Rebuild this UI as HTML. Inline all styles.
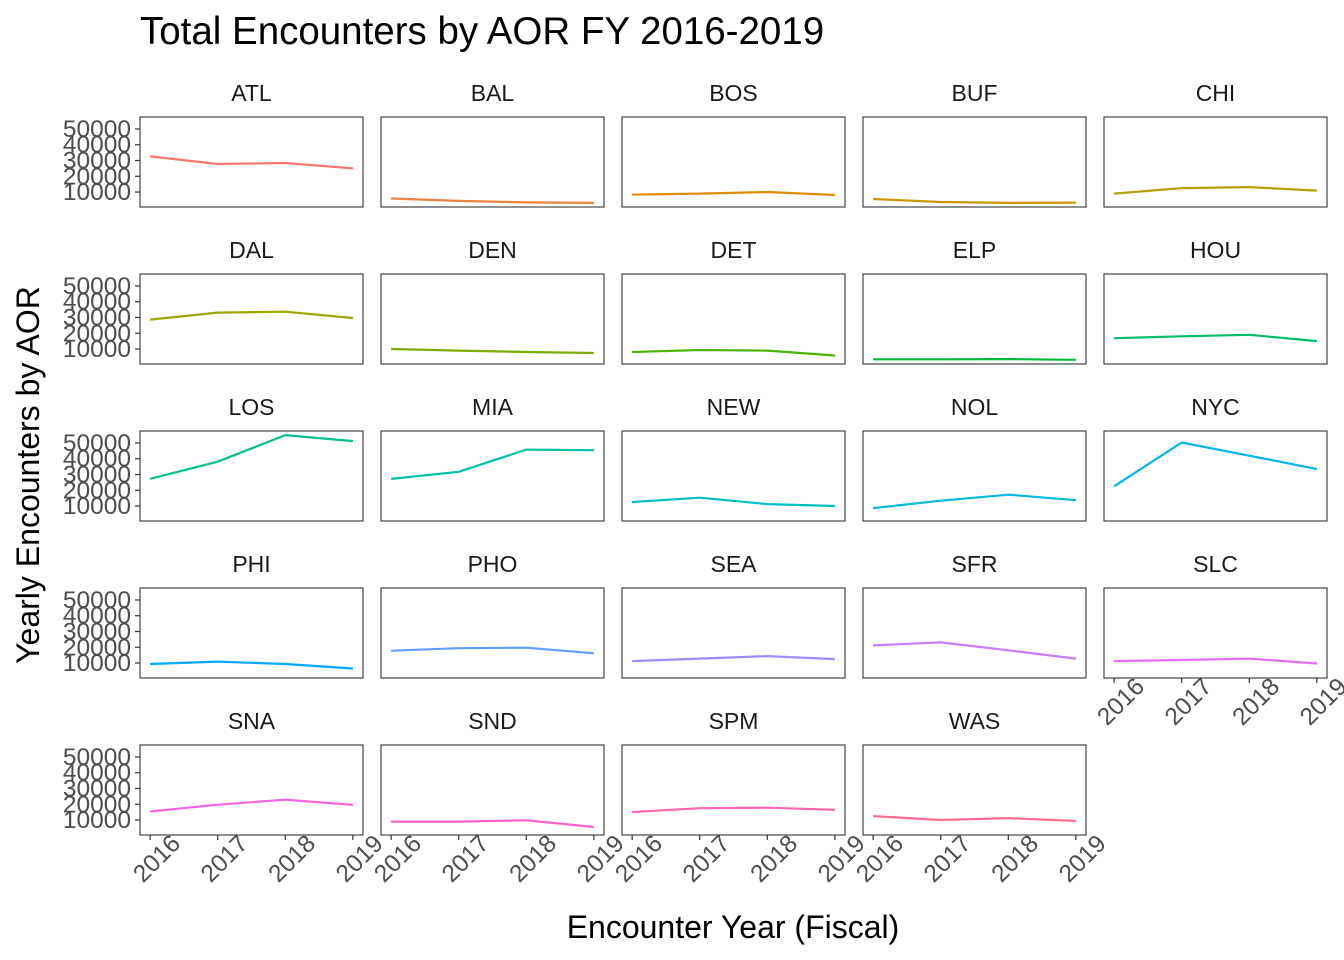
<!DOCTYPE html>
<html><head><meta charset="utf-8"><style>
body{margin:0;background:#fff}
svg{display:block;font-family:"Liberation Sans",Arial,sans-serif}
</style></head><body>
<svg id="chart" width="1344" height="960">
<text x="140" y="44" font-size="38.5" fill="#000">Total Encounters by AOR FY 2016-2019</text>
<text x="733" y="938" font-size="32" text-anchor="middle" fill="#000">Encounter Year (Fiscal)</text>
<text transform="translate(39,475) rotate(-90)" font-size="32" text-anchor="middle" fill="#000">Yearly Encounters by AOR</text>
</svg>
<script>
const years = [2016, 2017, 2018, 2019];
const aors = ["ATL","BAL","BOS","BUF","CHI","DAL","DEN","DET","ELP","HOU","LOS","MIA","NEW","NOL","NYC","PHI","PHO","SEA","SFR","SLC","SNA","SND","SPM","WAS"];
const encounters = [
 [32600,27800,28400,25000],
 [5900,4400,3400,3100],
 [8400,9000,10000,8100],
 [5600,3700,3100,3300],
 [9000,12500,13100,10900],
 [28700,33100,33700,29700],
 [10000,9000,8100,7500],
 [8100,9400,9000,5900],
 [3500,3500,3600,3200],
 [16900,18100,19000,15000],
 [27300,38100,55000,51200],
 [27200,31700,45800,45400],
 [12500,15300,11200,10000],
 [8700,13400,17200,13700],
 [22500,50300,41900,33400],
 [9400,10900,9400,6500],
 [17800,19400,19700,16200],
 [11200,12800,14400,12500],
 [21200,23100,18100,12800],
 [11200,11900,12800,9700],
 [15400,19700,22900,19600],
 [9000,9000,9800,5600],
 [15000,17500,17800,16500],
 [12500,10000,11200,9400]
];
const yTicks = [10000,20000,30000,40000,50000];

const svg = document.getElementById('chart');
const NS = 'http://www.w3.org/2000/svg';
function mk(tag, attrs){const e=document.createElementNS(NS,tag);for(const k in attrs)e.setAttribute(k,attrs[k]);svg.appendChild(e);return e;}

function hcl(h){
  const L=65,C=100,hr=h*Math.PI/180;
  const u=C*Math.cos(hr),v=C*Math.sin(hr);
  const Xn=95.047,Yn=100,Zn=108.883;
  const Y=Yn*Math.pow((L+16)/116,3);
  const den=Xn+15*Yn+3*Zn,un=4*Xn/den,vn=9*Yn/den;
  const up=u/(13*L)+un,vp=v/(13*L)+vn;
  const X=9*Y*up/(4*vp),Z=-X/3-5*Y+3*Y/vp;
  const x=X/100,y=Y/100,z=Z/100;
  let r=3.2404542*x-1.5371385*y-0.4985314*z;
  let g=-0.9692660*x+1.8760108*y+0.0415560*z;
  let b=0.0556434*x-0.2040259*y+1.0572252*z;
  const gm=c=>{c=c<=0.0031308?12.92*c:1.055*Math.pow(c,1/2.4)-0.055;return Math.round(Math.max(0,Math.min(1,c))*255);};
  return `rgb(${gm(r)},${gm(g)},${gm(b)})`;
}

let allV=[].concat(...encounters);
const vmin=Math.min(...allV), vmax=Math.max(...allV);
const vr=vmax-vmin;
const yLo=vmin-0.05*vr, yHi=vmax+0.05*vr;
const PW=223, PH=90;
const colX=[140,381,622,863,1104];
const rowY=[117,274,431,588,745];
const xs=(i,left)=>left+PW*(0.15+(years[i]-years[0]))/(years.length-1+0.3);
const ys=(v,top)=>top+PH-(v-yLo)/(yHi-yLo)*PH;

aors.forEach((name,k)=>{
  const col=k%5,row=Math.floor(k/5);
  const L=colX[col],T=rowY[row];
  const st=mk('text',{x:L+PW/2,y:T-16,'font-size':'23','text-anchor':'middle',fill:'#1a1a1a'});
  st.textContent=name;
  
  
  const fr=mk('rect',{x:L,y:T,width:PW,height:PH,fill:'#fff',stroke:'#333','stroke-width':'1.1'});
  
  
  const pts=encounters[k].map((v,i)=>xs(i,L).toFixed(1)+','+ys(v,T).toFixed(1)).join(' ');
  const pl=mk('polyline',{points:pts,fill:'none',stroke:hcl(15+15*k),'stroke-width':'2.2'});
  
  
  if(col===0){
    yTicks.forEach(t=>{
      const yy=ys(t,T);
      const tk=mk('line',{x1:L-5,x2:L,y1:yy,y2:yy,stroke:'#333','stroke-width':'1.2'});
      
      
      const tl=mk('text',{x:L-9,y:yy+8,'font-size':'24.5','text-anchor':'end',fill:'#4d4d4d'});
      tl.textContent=t;
      
      
    });
  }
  if(row===4||k===19){
    years.forEach((yr,i)=>{
      const xx=xs(i,L),B=T+PH;
      const tk=mk('line',{x1:xx,x2:xx,y1:B,y2:B+5,stroke:'#333','stroke-width':'1.2'});
      
      
      const tl=mk('text',{transform:`translate(${xx+7},${B+24}) rotate(-45)`,'font-size':'24.5','text-anchor':'middle','dominant-baseline':'central',fill:'#4d4d4d'});
      tl.textContent=yr;
      
      
    });
  }
});
</script>
</body></html>
